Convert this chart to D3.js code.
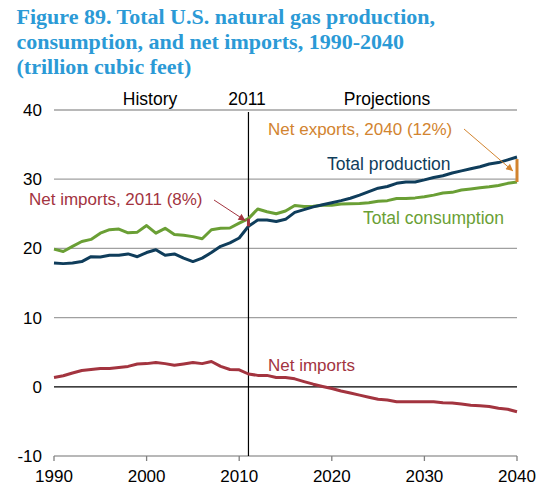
<!DOCTYPE html>
<html><head><meta charset="utf-8">
<script src="https://cdn.jsdelivr.net/npm/d3@7"></script>
<style>
body{margin:0;background:#fff;}
svg text{font-family:"Liberation Sans",Arial,sans-serif;}
</style></head>
<body><div id="chart"></div>
<script>
const years = d3.range(1990, 2041);
const production = [17.9,17.8,17.9,18.1,18.8,18.75,19.0,19.0,19.2,18.8,
  19.4,19.8,19.0,19.2,18.6,18.1,18.6,19.4,20.3,20.8,
  21.5,23.2,24.1,24.1,23.9,24.2,25.2,25.6,26.0,26.3,
  26.6,26.9,27.25,27.7,28.2,28.7,28.95,29.4,29.6,29.6,
  29.9,30.25,30.5,30.9,31.2,31.5,31.8,32.2,32.4,32.8,33.2];
const consumption = [19.9,19.55,20.3,21.0,21.3,22.2,22.7,22.8,22.25,22.35,
  23.3,22.2,22.9,22.0,21.9,21.7,21.4,22.7,22.9,22.95,
  23.65,24.3,25.7,25.3,25.0,25.4,26.2,26.05,26.1,26.25,
  26.25,26.4,26.45,26.5,26.6,26.8,26.9,27.2,27.2,27.3,
  27.45,27.7,28.0,28.1,28.45,28.6,28.75,28.9,29.1,29.4,29.6];
const netImports = [1.35,1.6,2.0,2.35,2.5,2.65,2.65,2.8,2.95,3.3,
  3.35,3.5,3.35,3.1,3.3,3.5,3.35,3.65,2.95,2.5,
  2.45,1.85,1.65,1.65,1.35,1.35,1.15,0.75,0.38,0.05,
  -0.25,-0.6,-0.9,-1.2,-1.5,-1.8,-1.9,-2.15,-2.15,-2.15,
  -2.15,-2.15,-2.3,-2.35,-2.5,-2.65,-2.75,-2.85,-3.1,-3.25,-3.6];
const yTicks = [-10, 0, 10, 20, 30, 40];
const xTicks = [1990, 2000, 2010, 2020, 2030, 2040];
const titleLines = ["Figure 89. Total U.S. natural gas production,",
  "consumption, and net imports, 1990-2040",
  "(trillion cubic feet)"];
const lastHistYear = 2011;

const C = {title:"#2b9ad6", prod:"#0f3d5b", cons:"#6a9f35", imp:"#a3343f", exp:"#d2842f", grid:"#a0a0a0"};

const svg = d3.select("#chart").append("svg").attr("width",546).attr("height",501);
const x = d3.scaleLinear().domain([1990,2040]).range([54,517]);
const y = d3.scaleLinear().domain([-10,40]).range([456,110]);

// title
svg.append("g").selectAll("text").data(titleLines).join("text")
  .attr("x",16.5).attr("y",(d,i)=>24+i*25)
  .style("font-family",'"Liberation Serif","Times New Roman",serif')
  .style("font-weight","bold").style("font-size","22px").attr("fill",C.title)
  .text(d=>d);

// gridlines
svg.append("g").selectAll("line").data(yTicks).join("line")
  .attr("x1",x(1990)).attr("x2",x(2040))
  .attr("y1",d=>y(d)).attr("y2",d=>y(d))
  .attr("stroke",d=>d===0?"#000":C.grid).attr("stroke-width",1.3);

// y labels
svg.append("g").selectAll("text").data(yTicks).join("text")
  .attr("x",42).attr("y",d=>y(d)+6).attr("text-anchor","end")
  .style("font-size","17px").text(d=>d);

// x ticks
svg.append("g").selectAll("line").data(xTicks).join("line")
  .attr("x1",d=>x(d)).attr("x2",d=>x(d)).attr("y1",y(-10)).attr("y2",y(-10)+5)
  .attr("stroke","#808080").attr("stroke-width",1.3);
svg.append("g").selectAll("text").data(xTicks).join("text")
  .attr("x",d=>x(d)).attr("y",482).attr("text-anchor","middle")
  .style("font-size","17px").text(d=>d);

// 2011 divider
svg.append("line").attr("x1",x(lastHistYear)).attr("x2",x(lastHistYear))
  .attr("y1",y(40)+2).attr("y2",y(-10)).attr("stroke","#000").attr("stroke-width",1.2);
svg.append("text").attr("x",150).attr("y",105).attr("text-anchor","middle").style("font-size","17.5px").text("History");
svg.append("text").attr("x",247).attr("y",105).attr("text-anchor","middle").style("font-size","17.5px").text("2011");
svg.append("text").attr("x",387).attr("y",105).attr("text-anchor","middle").style("font-size","17.5px").text("Projections");

// lines
const line = vals => d3.line().x((d,i)=>x(years[i])).y(d=>y(d))(vals);
svg.append("path").attr("d",line(consumption)).attr("fill","none").attr("stroke",C.cons).attr("stroke-width",3).attr("stroke-linejoin","round");
svg.append("path").attr("d",line(production)).attr("fill","none").attr("stroke",C.prod).attr("stroke-width",3).attr("stroke-linejoin","round");
svg.append("path").attr("d",line(netImports)).attr("fill","none").attr("stroke",C.imp).attr("stroke-width",3).attr("stroke-linejoin","round");

// difference bars
const i2011 = years.indexOf(2011), i2040 = years.indexOf(2040);
svg.append("line").attr("x1",x(2011)).attr("x2",x(2011))
  .attr("y1",y(consumption[i2011])).attr("y2",y(production[i2011]))
  .attr("stroke",C.imp).attr("stroke-width",3);
svg.append("line").attr("x1",x(2040)).attr("x2",x(2040))
  .attr("y1",y(production[i2040])+2).attr("y2",y(consumption[i2040]))
  .attr("stroke",C.exp).attr("stroke-width",3);

// arrow markers
const defs = svg.append("defs");
[["ai",C.imp],["ae",C.exp]].forEach(([id,c])=>{
  defs.append("marker").attr("id",id).attr("viewBox","0 0 10 10").attr("refX",10).attr("refY",5)
    .attr("markerWidth",9).attr("markerHeight",7).attr("markerUnits","userSpaceOnUse").attr("orient","auto")
    .append("path").attr("d","M0,0L10,5L0,10z").attr("fill",c);
});
svg.append("line").attr("x1",214).attr("y1",200).attr("x2",x(2011)-3).attr("y2",y(consumption[i2011])+2)
  .attr("stroke",C.imp).attr("stroke-width",1).attr("marker-end","url(#ai)");
svg.append("line").attr("x1",464).attr("y1",129).attr("x2",x(2040)-4).attr("y2",y(production[i2040])+14)
  .attr("stroke",C.exp).attr("stroke-width",1).attr("marker-end","url(#ae)");

// labels
svg.append("text").attr("x",29).attr("y",205).style("font-size","17px").attr("fill",C.imp).text("Net imports, 2011 (8%)");
svg.append("text").attr("x",268).attr("y",135).style("font-size","17px").attr("fill",C.exp).text("Net exports, 2040 (12%)");
svg.append("text").attr("x",327).attr("y",170).style("font-size","17.5px").attr("fill",C.prod).text("Total production");
svg.append("text").attr("x",363).attr("y",224).style("font-size","17.5px").attr("fill",C.cons).text("Total consumption");
svg.append("text").attr("x",268).attr("y",371).style("font-size","17px").attr("fill",C.imp).text("Net imports");
</script></body></html>
